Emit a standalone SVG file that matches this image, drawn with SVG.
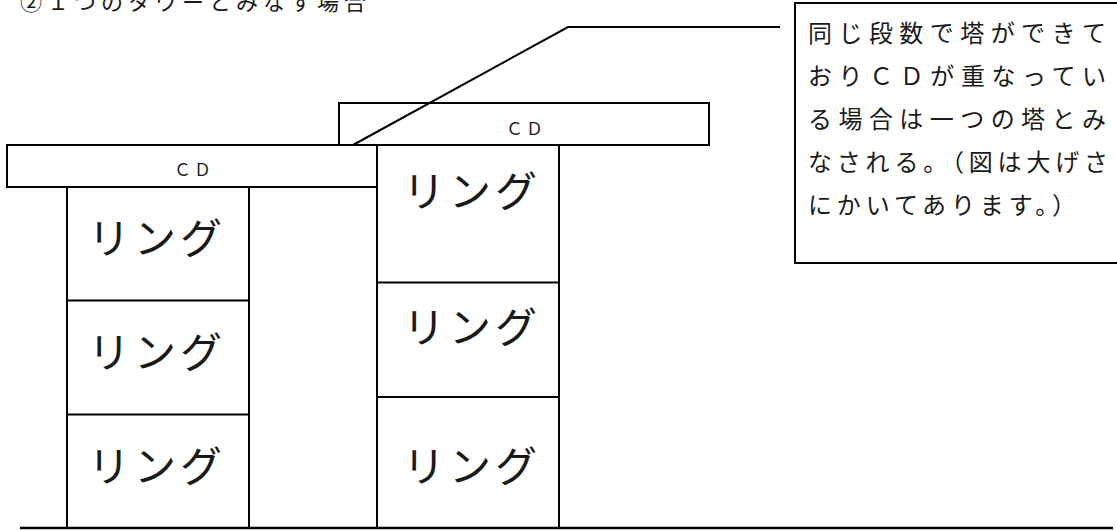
<svg xmlns="http://www.w3.org/2000/svg" width="1117" height="530" viewBox="0 0 1117 530">
<style>
.box{fill:none;stroke:#000;stroke-width:2}
.ln{fill:none;stroke:#000;stroke-width:2}
.t{font-family:"Liberation Serif","Noto Sans CJK JP",serif;fill:#1a1a1a}
.ring{font-size:42px;letter-spacing:4px;text-anchor:middle}
.cd{font-size:17px;letter-spacing:3px;text-anchor:middle}
.note{font-size:24px}
</style>
<rect width="1117" height="530" fill="#fff"/>
<text class="t" x="20" y="10" style="font-size:22px;letter-spacing:5px">②１つのタワーとみなす場合</text>

<g id="left-tower">
  <rect class="box" x="67" y="187" width="182" height="341"/>
  <line class="ln" x1="67" y1="300.5" x2="249" y2="300.5"/>
  <line class="ln" x1="67" y1="414.5" x2="249" y2="414.5"/>
  <text class="t ring" x="157" y="254">リング</text>
  <text class="t ring" x="157" y="368">リング</text>
  <text class="t ring" x="157" y="482">リング</text>
</g>

<g id="right-tower">
  <rect class="box" x="377" y="145" width="182" height="383"/>
  <line class="ln" x1="377" y1="282.5" x2="559" y2="282.5"/>
  <line class="ln" x1="377" y1="397" x2="559" y2="397"/>
  <text class="t ring" x="472" y="207">リング</text>
  <text class="t ring" x="472" y="343">リング</text>
  <text class="t ring" x="472" y="482">リング</text>
</g>

<g id="left-cd">
  <rect class="box" x="7" y="145" width="370" height="42" fill="#fff"/>
  <text class="t cd" x="194" y="176">ＣＤ</text>
</g>

<g id="right-cd">
  <rect class="box" x="339" y="103" width="370" height="42"/>
  <text class="t cd" x="526" y="135">ＣＤ</text>
</g>

<g id="callout">
  <rect class="box" x="795" y="3" width="330" height="260"/>
  <text class="t note" x="808" y="42" textLength="298" lengthAdjust="spacing">同じ段数で塔ができて</text>
  <text class="t note" x="808" y="85" textLength="298" lengthAdjust="spacing">おりＣＤが重なってい</text>
  <text class="t note" x="808" y="128" textLength="298" lengthAdjust="spacing">る場合は一つの塔とみ</text>
  <text class="t note" x="808" y="171" textLength="300" lengthAdjust="spacing">なされる。（図は大げさ</text>
  <text class="t note" x="808" y="214" textLength="268" lengthAdjust="spacing">にかいてあります。）</text>
</g>

<g id="connectors">
  <polyline class="ln" points="353,145 568,27 780,27"/>
  <line class="ln" x1="20" y1="528" x2="1113" y2="528" style="stroke-width:2.5"/>
</g>
</svg>
